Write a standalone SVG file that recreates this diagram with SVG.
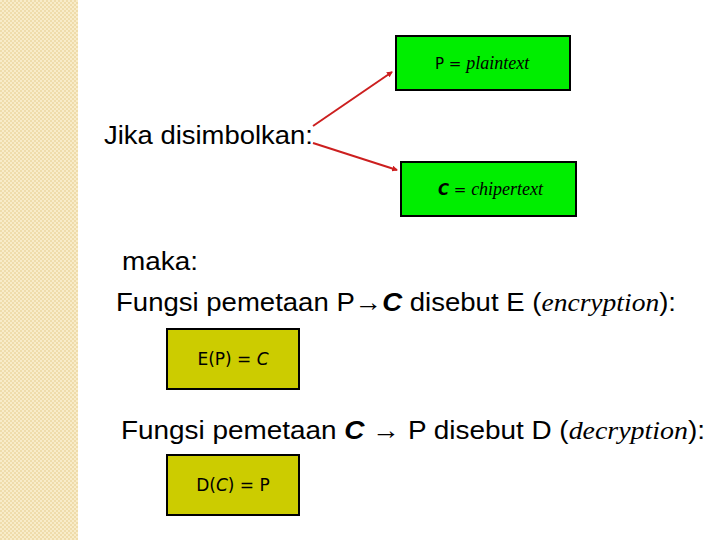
<svg xmlns="http://www.w3.org/2000/svg" width="720" height="540" viewBox="0 0 720 540">
<defs>
<pattern id="chk" width="4" height="4" patternUnits="userSpaceOnUse">
<rect width="4" height="4" fill="#efdcab"/>
<rect width="2" height="2" fill="#f8ecc9"/>
<rect x="2" y="2" width="2" height="2" fill="#f8ecc9"/>
</pattern>
<marker id="ah" markerWidth="6" markerHeight="6" refX="5" refY="3" orient="auto" markerUnits="userSpaceOnUse">
<path d="M0,0 L6,3 L0,6 z" fill="#cc1f1f"/>
</marker>
<style>
.t{font-family:"Liberation Sans",Arial,sans-serif;fill:#000}
.b{font-family:"DejaVu Sans",Verdana,sans-serif;fill:#000}
.s{font-family:"Liberation Serif","Times New Roman",serif;font-style:italic}
.g{fill:#00ee00;stroke:#000;stroke-width:2}
.y{fill:#cccc00;stroke:#000;stroke-width:2}
.a{stroke:#cc1f1f;stroke-width:2;fill:none}
</style>
</defs>
<rect width="720" height="540" fill="#fff"/>
<rect width="78" height="540" fill="url(#chk)"/>
<g id="boxP"><rect class="g" x="396" y="36" width="174" height="54"/>
<text class="b" x="435" y="69" font-size="15">P = <tspan class="s" font-size="18">plaintext</tspan></text></g>
<g id="boxC"><rect class="g" x="401" y="162" width="175" height="54"/>
<text class="b" x="438" y="195" font-size="15"><tspan font-style="italic" font-weight="bold">C</tspan> = <tspan class="s" font-size="18">chipertext</tspan></text></g>
<g id="label"><text class="t" x="104" y="144" font-size="26" textLength="209" lengthAdjust="spacingAndGlyphs">Jika disimbolkan:</text></g>
<g id="connectors">
<line class="a" x1="313" y1="126" x2="392" y2="72" marker-end="url(#ah)"/>
<line class="a" x1="313" y1="143" x2="397" y2="170" marker-end="url(#ah)"/>
</g>
<text class="t" x="122" y="270" font-size="26" textLength="76" lengthAdjust="spacingAndGlyphs">maka:</text>
<text class="t" x="116" y="311" font-size="26" textLength="560" lengthAdjust="spacingAndGlyphs">Fungsi pemetaan P→<tspan font-style="italic" font-weight="bold">C</tspan> disebut E (<tspan class="s">encryption</tspan>):</text>
<g id="boxE"><rect class="y" x="167" y="329" width="132" height="60"/>
<text class="b" x="233" y="365" font-size="17" text-anchor="middle">E(P) = <tspan font-style="italic">C</tspan></text></g>
<text class="t" x="121" y="439" font-size="26" textLength="584" lengthAdjust="spacingAndGlyphs">Fungsi pemetaan <tspan font-style="italic" font-weight="bold">C</tspan> → P disebut D (<tspan class="s">decryption</tspan>):</text>
<g id="boxD"><rect class="y" x="167" y="455" width="132" height="60"/>
<text class="b" x="233" y="491" font-size="17" text-anchor="middle">D(<tspan font-style="italic">C</tspan>) = P</text></g>
</svg>
